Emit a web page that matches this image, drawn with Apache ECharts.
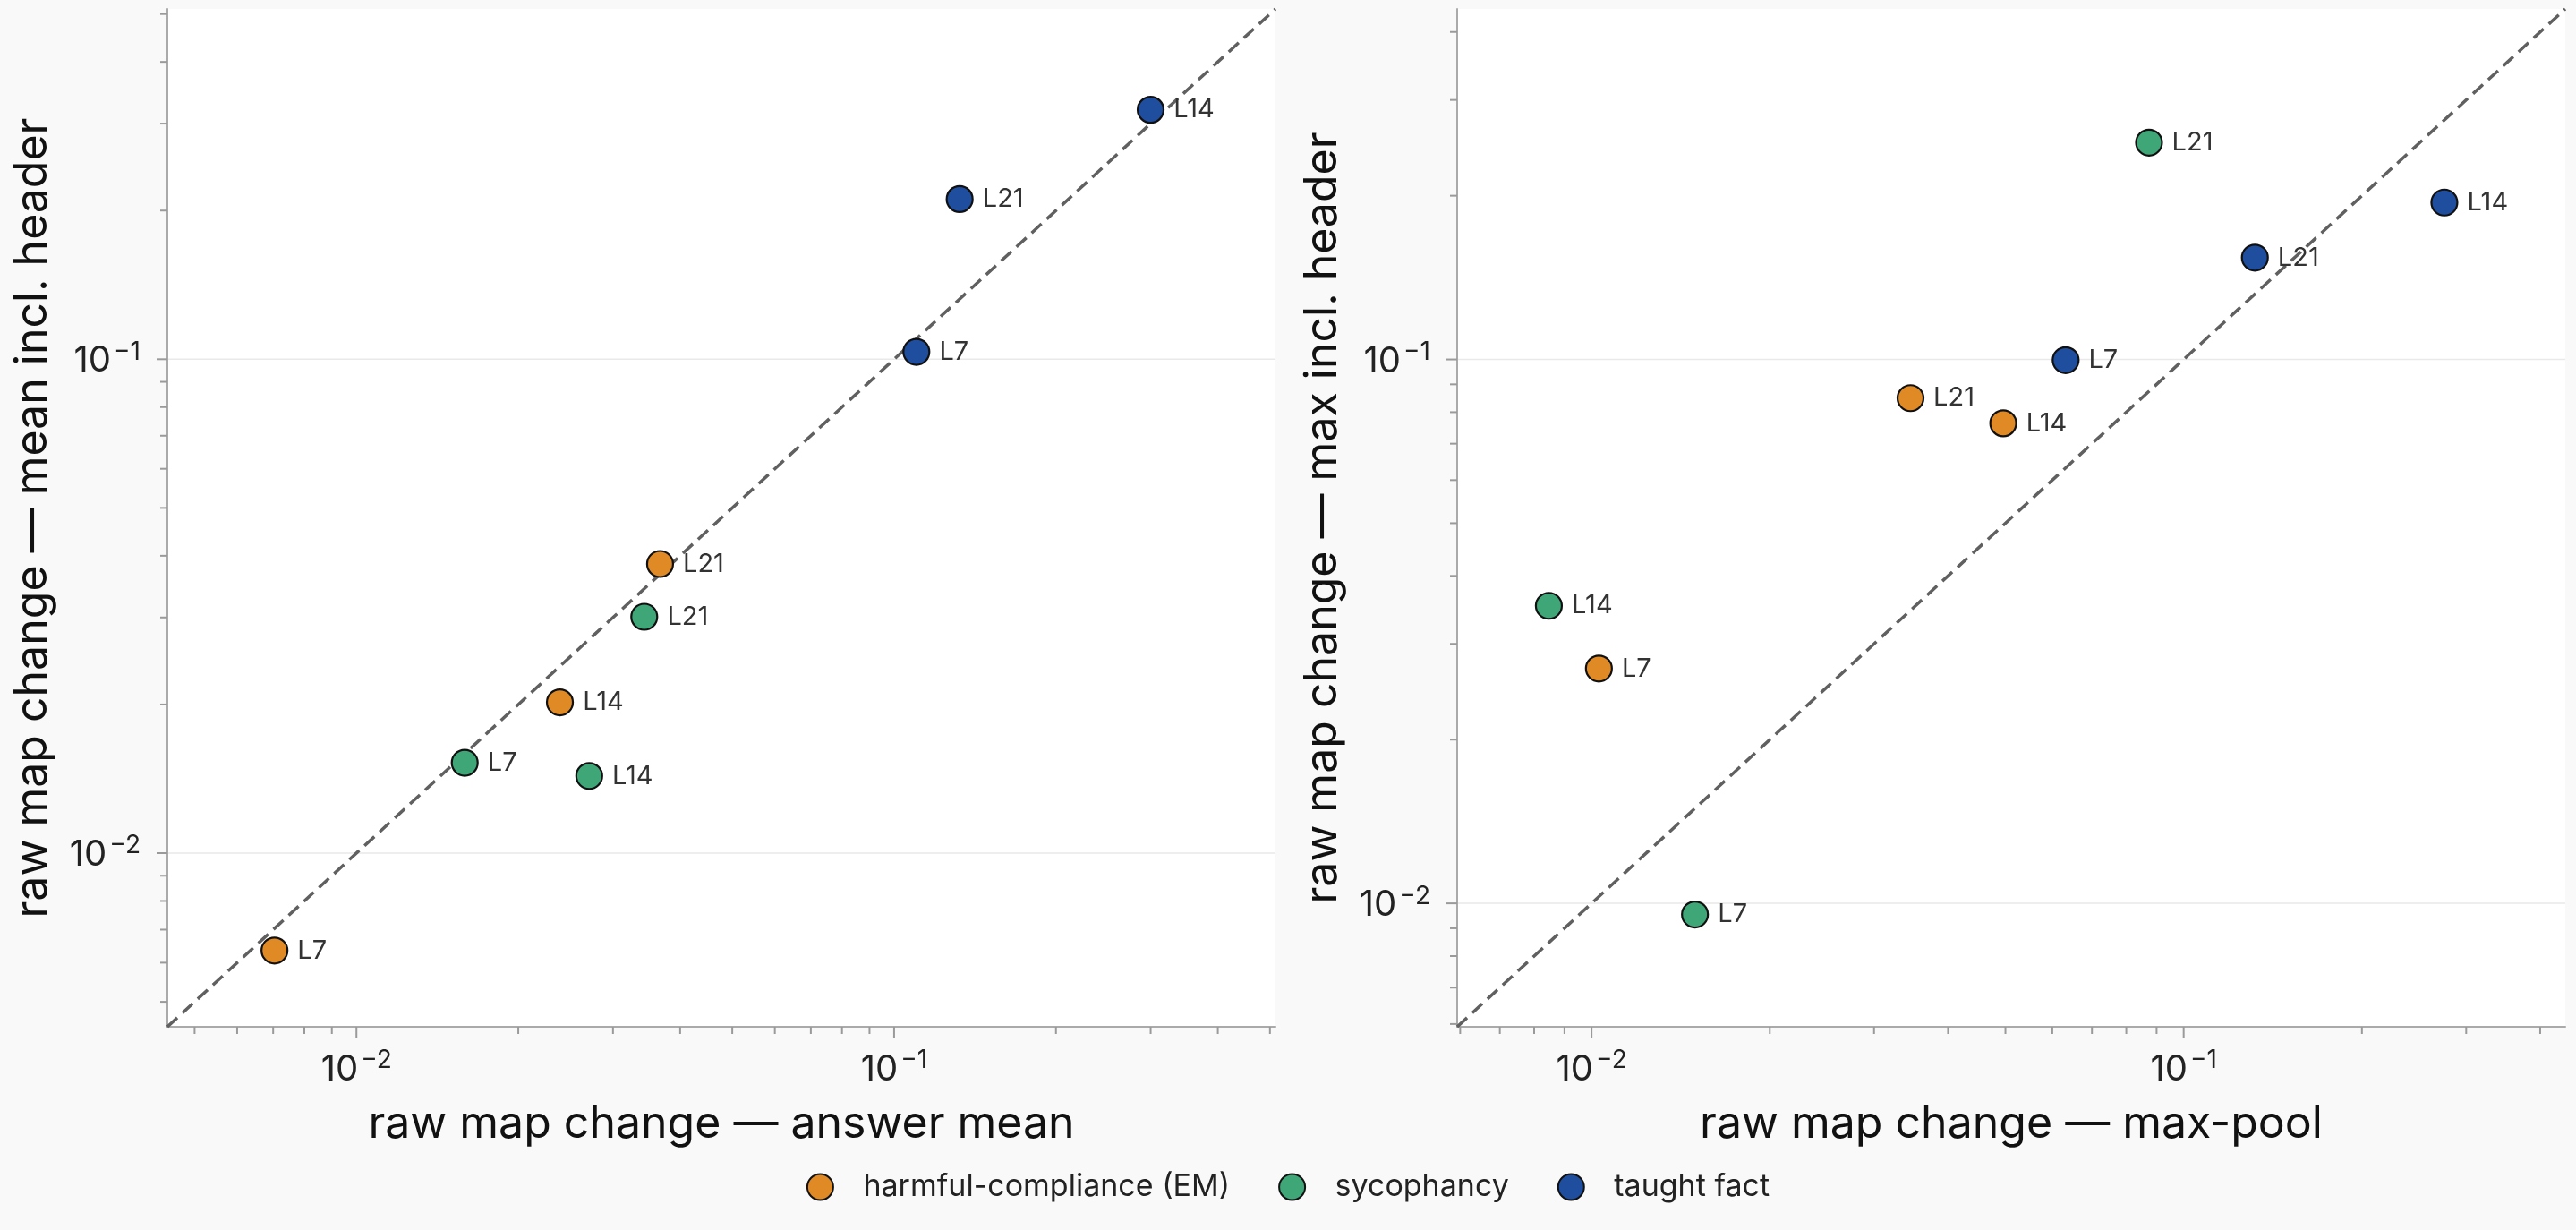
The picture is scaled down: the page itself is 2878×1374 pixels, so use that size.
<!DOCTYPE html>
<html>
<head>
<meta charset="utf-8">
<script src="https://cdn.jsdelivr.net/npm/echarts@6/dist/echarts.min.js"></script>
<style>
html,body{margin:0;padding:0;background:#f9f9f9;}
#chart{width:2878px;height:1374px;}
</style>
</head>
<body>
<div id="chart"></div>
<script>
// ---- data ----
const categories = ['harmful-compliance (EM)', 'sycophancy', 'taught fact'];
const layers = ['L7', 'L14', 'L21'];
const colors = ['#E08A26', '#3FA677', '#1F4E9F'];

// left panel: x = answer mean, y = mean incl. header
const harmAnswerMean = [0.00704, 0.0239, 0.0367];
const harmMeanHeader = [0.00635, 0.0202, 0.0385];
const sycoAnswerMean = [0.0159, 0.0271, 0.0343];
const sycoMeanHeader = [0.01524, 0.01433, 0.0301];
const factAnswerMean = [0.110, 0.300, 0.1324];
const factMeanHeader = [0.1035, 0.320, 0.211];

// right panel: x = max-pool, y = max incl. header
const harmMaxPool = [0.01029, 0.04958, 0.03457];
const harmMaxHeader = [0.02702, 0.07632, 0.0849];
const sycoMaxPool = [0.01495, 0.00847, 0.0874];
const sycoMaxHeader = [0.00954, 0.03524, 0.2504];
const factMaxPool = [0.0632, 0.2756, 0.1319];
const factMaxHeader = [0.0997, 0.1943, 0.1539];

const leftLimits = [0.00445, 0.512];
const rightLimits = [0.00593, 0.441];

const majorTicks = [0.01, 0.1];
const minorTicks = [0.002, 0.003, 0.004, 0.005, 0.006, 0.007, 0.008, 0.009,
                    0.02, 0.03, 0.04, 0.05, 0.06, 0.07, 0.08, 0.09,
                    0.2, 0.3, 0.4, 0.5, 0.6, 0.7, 0.8, 0.9];

const xTitles = ['raw map change — answer mean', 'raw map change — max-pool'];
const yTitles = ['raw map change — mean incl. header', 'raw map change — max incl. header'];

// ---- build ----
const FONT = 'Inter';
const panels = [
  {lim: leftLimits, xs: [harmAnswerMean, sycoAnswerMean, factAnswerMean], ys: [harmMeanHeader, sycoMeanHeader, factMeanHeader]},
  {lim: rightLimits, xs: [harmMaxPool, sycoMaxPool, factMaxPool], ys: [harmMaxHeader, sycoMaxHeader, factMaxHeader]}
];

function logLabel(v) {
  const e = Math.log10(v);
  const r = Math.round(e);
  if (Math.abs(e - r) > 1e-6) return '';
  return '{b|10}{s|' + (r < 0 ? '\u2212' : '') + Math.abs(r) + '}';
}
const richLabel = {
  b: {fontSize: 40, fontFamily: FONT, color: '#222', lineHeight: 44, verticalAlign: 'bottom'},
  s: {fontSize: 28, fontFamily: FONT, color: '#222', lineHeight: 22, verticalAlign: 'top', padding: [0, 0, 0, 3]}
};

const grids = [
  {left: 187, top: 10, width: 1238, height: 1137, show: true, backgroundColor: '#ffffff', borderWidth: 0},
  {left: 1628, top: 10, width: 1238, height: 1137, show: true, backgroundColor: '#ffffff', borderWidth: 0}
];

const xAxes = [], yAxes = [], series = [];
panels.forEach((p, i) => {
  const [lo, hi] = p.lim;
  xAxes.push({
    type: 'log', logBase: 10, gridIndex: i, min: lo, max: hi,
    name: xTitles[i], nameLocation: 'middle', nameGap: 84,
    nameTextStyle: {fontSize: 50, fontFamily: FONT, color: '#111'},
    axisLine: {show: true, onZero: false, lineStyle: {color: '#aaaaaa', width: 2}},
    axisTick: {show: false}, splitLine: {show: false}, minorTick: {show: false},
    axisLabel: {formatter: logLabel, rich: richLabel, margin: 24, showMinLabel: false, showMaxLabel: false}
  });
  yAxes.push({
    type: 'log', logBase: 10, gridIndex: i, min: lo, max: hi,
    name: yTitles[i], nameLocation: 'middle', nameGap: 125, nameRotate: 90,
    nameTextStyle: {fontSize: 50, fontFamily: FONT, color: '#111'},
    axisLine: {show: true, onZero: false, lineStyle: {color: '#aaaaaa', width: 2}},
    axisTick: {show: false}, splitLine: {show: false}, minorTick: {show: false},
    axisLabel: {formatter: logLabel, rich: richLabel, margin: 30, showMinLabel: false, showMaxLabel: false}
  });

  const tickData = majorTicks.map(v => [v, 1]).concat(minorTicks.map(v => [v, 0]))
    .filter(d => d[0] >= lo && d[0] <= hi);

  // horizontal grid lines at major y ticks
  series.push({
    type: 'custom', xAxisIndex: i, yAxisIndex: i, silent: true, z: 1, clip: false,
    data: majorTicks.filter(v => v >= lo && v <= hi).map(v => [v]),
    renderItem: (params, api) => {
      const v = api.value(0);
      const a = api.coord([lo, v]), b = api.coord([hi, v]);
      return {type: 'line', shape: {x1: a[0] + 1, y1: a[1], x2: b[0], y2: b[1]},
        style: {stroke: '#e9e9e9', lineWidth: 1.5}};
    }
  });
  // x ticks
  series.push({
    type: 'custom', xAxisIndex: i, yAxisIndex: i, silent: true, z: 1, clip: false,
    data: tickData,
    renderItem: (params, api) => {
      const v = api.value(0), major = api.value(1) === 1;
      const c = api.coord([v, lo]);
      return {type: 'line', shape: {x1: c[0], y1: c[1], x2: c[0], y2: c[1] + (major ? 12 : 8)},
        style: {stroke: '#9a9a9a', lineWidth: 2}};
    }
  });
  // y ticks
  series.push({
    type: 'custom', xAxisIndex: i, yAxisIndex: i, silent: true, z: 1, clip: false,
    data: tickData,
    renderItem: (params, api) => {
      const v = api.value(0), major = api.value(1) === 1;
      const c = api.coord([lo, v]);
      return {type: 'line', shape: {x1: c[0], y1: c[1], x2: c[0] - (major ? 12 : 8), y2: c[1]},
        style: {stroke: '#9a9a9a', lineWidth: 2}};
    }
  });
  // y = x reference
  series.push({
    type: 'line', xAxisIndex: i, yAxisIndex: i, silent: true, z: 2,
    data: [[lo, lo], [hi, hi]], symbol: 'none',
    lineStyle: {color: '#606060', width: 3.5, type: [15, 8]}
  });
  // scatter per category
  categories.forEach((cat, k) => {
    series.push({
      type: 'scatter', name: cat, xAxisIndex: i, yAxisIndex: i, z: 3,
      symbol: 'circle', symbolSize: 29,
      itemStyle: {color: colors[k], borderColor: '#111', borderWidth: 2.2, opacity: 1},
      data: layers.map((L, j) => ({name: L, value: [p.xs[k][j], p.ys[k][j]]})),
      label: {show: true, position: 'right', distance: 10, formatter: '{b}',
        fontSize: 29, fontFamily: FONT, color: '#333'},
      emphasis: {disabled: true}
    });
  });
});

const chart = echarts.init(document.getElementById('chart'), null, {renderer: 'canvas'});
chart.setOption({
  backgroundColor: '#f9f9f9',
  animation: false,
  textStyle: {fontFamily: FONT},
  grid: grids,
  xAxis: xAxes,
  yAxis: yAxes,
  legend: {
    data: categories, left: 'center', top: 1304,
    icon: 'circle', itemWidth: 86, itemHeight: 29, itemGap: 54, symbolKeepAspect: true,
    itemStyle: {opacity: 1},
    textStyle: {fontSize: 34, fontFamily: FONT, color: '#222'}
  },
  series: series
});
</script>
</body>
</html>
